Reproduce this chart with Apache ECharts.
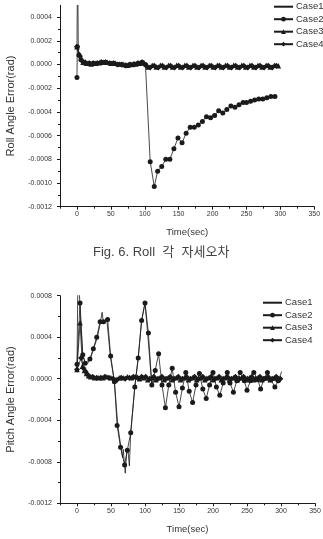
<!DOCTYPE html>
<html>
<head>
<meta charset="utf-8">
<script src="https://cdn.jsdelivr.net/npm/echarts@6/dist/echarts.min.js"></script>
<style>
  html, body { margin: 0; padding: 0; background: #fff; }
  #chart { width: 323px; height: 539px; }
</style>
</head>
<body>
<div id="chart"></div>
<script>
// tick values
const xTicks = [0, 50, 100, 150, 200, 250, 300, 350]
const xMinor = [-25, 25, 75, 125, 175, 225, 275, 325]
const rollTicks = [-0.0012, -0.001, -0.0008, -0.0006, -0.0004, -0.0002, 0, 0.0002, 0.0004]
const rollMinor = [-0.0011, -0.0009, -0.0007, -0.0005, -0.0003, -0.0001, 0.0001, 0.0003]
const pitchTicks = [-0.0012, -0.0008, -0.0004, 0, 0.0004, 0.0008]
const pitchMinor = [-0.001, -0.0006, -0.0002, 0.0002, 0.0006]

// Roll angle error  [time, rad]
const rollCase1 = [[0, 0.00015], [1, 0.0009], [2, 0.0001], [4, 0.00004], [8, 0.00001], [20, 0.000005],
  [60, 0], [100, 0], [104, -0.00002], [200, -0.00001], [298, -0.00001]]
const rollCase2 = [[0, -0.00011], [0.5, 0.00015], [3, 0.00008], [6, 0.00004], [12, 0.00001], [18, 0.00001],
  [24, 0.00001], [30, 0.00001], [36, 0.00002], [42, 0.00002], [48, 0.00001], [54, 0.00001], [60, 0],
  [66, 0], [72, -0.00001], [78, 0], [84, 0], [90, 0.00001], [96, 0.00002], [101, 0],
  [108, -0.00082], [114, -0.00103], [119, -0.0009], [125, -0.00086], [131, -0.0008], [137, -0.0008],
  [143, -0.00071], [149, -0.00062], [155, -0.00066], [161, -0.00058], [167, -0.00053], [173, -0.00053],
  [179, -0.00051], [185, -0.00048], [191, -0.00044], [197, -0.00045], [203, -0.00043], [209, -0.00039],
  [215, -0.00041], [221, -0.00038], [227, -0.00035], [233, -0.00036], [239, -0.00034], [245, -0.00032],
  [250, -0.00032], [256, -0.00031], [262, -0.0003], [268, -0.00029], [274, -0.00029], [280, -0.00028],
  [286, -0.00027], [292, -0.00027]]
const rollCase3 = [[0, 0.00015], [3, 0.00009], [6, 0.00005], [9, 0.00002], [15, 0.00001], [21, 0.000005],
  [27, 0.00001], [33, 0.000015], [39, 0.00002], [45, 0.00002], [51, 0.00001], [57, 0.00001], [63, 0.000005],
  [69, 0], [75, -0.000005], [81, 0], [87, 0.000005], [93, 0.00001], [99, 0.000015], [105, -0.00002],
  [111, -0.000005], [117, -0.00002], [123, -0.000005], [129, -0.00002], [135, -0.000005], [141, -0.00002],
  [147, -0.000005], [153, -0.00002], [159, -0.000005], [165, -0.00002], [171, -0.000005], [177, -0.00002],
  [183, -0.000005], [189, -0.00002], [195, -0.000005], [201, -0.00002], [207, -0.000005], [213, -0.00002],
  [219, -0.000005], [225, -0.00002], [231, -0.000005], [237, -0.00002], [243, -0.000005], [249, -0.00002],
  [255, -0.000005], [261, -0.00002], [267, -0.000005], [273, -0.00002], [279, -0.000005], [285, -0.00002],
  [291, -0.000005], [297, -0.00001]]
const rollCase4 = [[0, 0.00015], [4.5, 0.00007], [7.5, 0.00003], [12, 0.00002], [18, 0.00001], [24, 0.00001],
  [30, 0.00001], [36, 0.00002], [42, 0.00002], [48, 0.00001], [54, 0.00001], [60, 0], [66, 0],
  [72, -0.000005], [78, 0], [84, 0.000005], [90, 0.00001], [96, 0.00002], [102, -0.00001], [108, -0.000025],
  [114, -0.00001], [120, -0.000025], [126, -0.00001], [132, -0.000025], [138, -0.00001], [144, -0.000025],
  [150, -0.00001], [156, -0.000025], [162, -0.00001], [168, -0.000025], [174, -0.00001], [180, -0.000025],
  [186, -0.00001], [192, -0.000025], [198, -0.00001], [204, -0.000025], [210, -0.00001], [216, -0.000025],
  [222, -0.00001], [228, -0.000025], [234, -0.00001], [240, -0.000025], [246, -0.00001], [252, -0.000025],
  [258, -0.00001], [264, -0.000025], [270, -0.00001], [276, -0.000025], [282, -0.00001], [288, -0.000025],
  [294, -0.00001]]

// Pitch angle error  [time, rad]
const pitchCase1 = [[0, 0.0001], [1.5, 0.0011], [3, 0.0009], [5, 0.0006], [8, 0.00025], [12, 0.00015],
  [16, 0.00015], [20, 0.0002], [25, 0.0003], [30, 0.0004], [34, 0.00053], [37, 0.00064], [39, 0.00053],
  [44, 0.00056], [49, 0.00022], [55, -0.00003], [60, -0.00045], [65, -0.00068], [67, -0.00076],
  [68, -0.00068], [71, -0.00091], [73, -0.00072], [75, -0.00069], [77, -0.00084], [79, -0.00052],
  [85, -0.00008], [90, 0.0002], [95, 0.00056], [100, 0.00073], [104, 0.00043], [110, -0.00006],
  [115, 0.00001], [150, 0], [200, 0], [250, 0], [296, -0.00002], [301, 0.00007]]
const pitchCase2 = [[0, 0.00014], [4.5, 0.00073], [8.5, 0.00023], [12, 0.00015], [19, 0.00019],
  [24, 0.00029], [29, 0.0004], [34, 0.00055], [39, 0.00055], [45, 0.00057], [49.5, 0.00022],
  [55, -0.00003], [59, -0.00045], [64, -0.00066], [70, -0.00083], [74, -0.00069], [79, -0.00052],
  [85, -0.00008], [90, 0.0002], [95, 0.00056], [100, 0.00073], [105, 0.00044], [110, -0.00006],
  [115, 0.00008], [120, 0.00024], [125, -0.00006], [130, -0.00028], [135, -0.00006], [140, 0.0001],
  [145, -0.00013], [150, -0.00027], [155, -0.00009], [160, 0.00006], [165, -0.00012], [170, -0.00023],
  [175, -0.00006], [180, 0.00005], [185, -0.0001], [190, -0.00019], [195, -0.00006], [200, 0.00006],
  [205, -0.00008], [210, -0.00016], [215, -0.00004], [221, 0.00006], [225, -0.00004], [230, -0.00013],
  [235, -0.00002], [240, 0.00006], [246, -0.00002], [250, -0.00011], [255, -0.00002], [260, 0.00006],
  [266, -0.00001], [270, -0.0001], [275, 0], [280, 0.00006], [285, -0.00001], [291, -0.00008], [296, -0.00002]]
const pitchCase3 = [[0, 0.00009], [4.5, 0.00054], [8, 0.00012], [11, 0.00008], [14, 0.00005], [17, 0.00003],
  [20, 0.00002], [26, 0.00001], [32, 0.00001], [38, 0.00001], [44, 0.00002], [50, 0.00001], [56, -0.00001],
  [62, 0.00001], [68, 0.00001], [74, 0.00002], [80, 0.00001], [86, 0.00002], [92, 0], [98, 0.00001],
  [104, -0.00001], [110, 0.00001], [116, -0.00001], [122, 0.00001], [128, -0.00001], [134, 0.00001],
  [140, -0.00001], [146, 0.00001], [152, -0.00001], [158, 0.00001], [164, -0.00001], [170, 0.00001],
  [176, -0.00001], [182, 0.00001], [188, -0.00001], [194, 0.00001], [200, -0.00001], [206, 0.00001],
  [212, -0.00001], [218, 0.00001], [224, -0.00001], [230, 0.00001], [236, -0.00001], [242, 0.00001],
  [248, -0.00001], [254, 0.00001], [260, -0.00001], [266, 0.00001], [272, -0.00001], [278, 0.00001],
  [284, -0.00001], [290, 0.00001], [296, 0]]
const pitchCase4 = [[0, 0.00009], [6, 0.0002], [9.5, 0.0001], [12.5, 0.00007], [15.5, 0.00004], [23, 0.00002],
  [29, 0.00001], [35, 0.00001], [41, 0.00002], [47, 0.00001], [53, 0], [59, -0.00001], [65, 0.00001],
  [71, 0], [77, 0.00001], [83, 0.00002], [89, 0.00001], [95, 0.00002], [101, 0.00002], [107, 0],
  [113, 0.00002], [119, 0], [125, 0.00002], [131, 0], [137, 0.00002], [143, 0], [149, 0.00002],
  [155, 0], [161, 0.00002], [167, 0], [173, 0.00002], [179, 0], [185, 0.00002], [191, 0],
  [197, 0.00002], [203, 0], [209, 0.00002], [215, 0], [221, 0.00002], [227, 0], [233, 0.00002],
  [239, 0], [245, 0.00002], [251, 0], [257, 0.00002], [263, 0], [269, 0.00002], [275, 0],
  [281, 0.00002], [287, 0], [293, 0.00002], [299, 0]]

const FONT = 'Liberation Sans, Arial, sans-serif'
const INK = '#1a1a1a'
const TXT = '#333'

function mainX(grid, name) {
  return {
    type: 'value', gridIndex: grid, min: -25, max: 350,
    name: name, nameLocation: 'middle', nameGap: 21,
    nameTextStyle: { fontFamily: FONT, fontSize: 9.5, color: TXT },
    axisLine: { show: true, onZero: false, lineStyle: { color: INK, width: 1 } },
    axisTick: { show: true, length: 3, customValues: xTicks, lineStyle: { color: INK } },
    axisLabel: { customValues: xTicks, margin: 4, fontFamily: FONT, fontSize: 7, color: TXT },
    splitLine: { show: false }
  }
}
function minorX(grid) {
  return {
    type: 'value', gridIndex: grid, min: -25, max: 350, position: 'bottom',
    axisLine: { show: false, onZero: false },
    axisTick: { show: true, length: 2, customValues: xMinor, lineStyle: { color: INK } },
    axisLabel: { show: false }, splitLine: { show: false }
  }
}
function mainY(grid, name, min, max, ticks) {
  return {
    type: 'value', gridIndex: grid, min: min, max: max,
    name: name, nameLocation: 'middle', nameGap: 44,
    nameTextStyle: { fontFamily: FONT, fontSize: 11, color: TXT },
    axisLine: { show: true, onZero: false, lineStyle: { color: INK, width: 1 } },
    axisTick: { show: true, length: 3, customValues: ticks, lineStyle: { color: INK } },
    axisLabel: {
      customValues: ticks, margin: 8, fontFamily: FONT, fontSize: 7, color: TXT,
      formatter: v => v.toFixed(4)
    },
    splitLine: { show: false }
  }
}
function minorY(grid, min, max, ticks) {
  return {
    type: 'value', gridIndex: grid, min: min, max: max, position: 'left',
    axisLine: { show: false, onZero: false },
    axisTick: { show: true, length: 2, customValues: ticks, lineStyle: { color: INK } },
    axisLabel: { show: false }, splitLine: { show: false }
  }
}

const symbols = ['none', 'circle', 'triangle', 'diamond']
const sizes = [0, 5, 5.5, 6]
function mkSeries(name, idx, data, xi, yi) {
  return {
    type: 'line', name: name, data: data, xAxisIndex: xi, yAxisIndex: yi,
    symbol: symbols[idx], symbolSize: sizes[idx], showSymbol: idx > 0,
    lineStyle: { color: INK, width: 0.8 },
    itemStyle: { color: INK },
    clip: true, z: 2 + idx
  }
}

function legendAt(left, top) {
  return {
    orient: 'vertical', left: left, top: top, padding: 0,
    itemWidth: 19, itemHeight: 6, itemGap: 2.5,
    textStyle: { fontFamily: FONT, fontSize: 9.5, lineHeight: 10, color: TXT, padding: [0, 0, 0, -2] },
    data: [{ name: 'Case1', itemStyle: { opacity: 0 } }, 'Case2', 'Case3', 'Case4']
  }
}

const chart = echarts.init(document.getElementById('chart'), null, { renderer: 'canvas' })
chart.setOption({
  animation: false,
  backgroundColor: '#fff',
  grid: [
    { left: 60, top: 5.3, width: 254.3, height: 201.4, containLabel: false, outerBoundsMode: 'none' },
    { left: 60, top: 295.7, width: 255, height: 207.6, containLabel: false, outerBoundsMode: 'none' }
  ],
  legend: [legendAt(273, 1.7), legendAt(262, 297.7)],
  xAxis: [mainX(0, 'Time(sec)'), minorX(0), mainX(1, 'Time(sec)'), minorX(1)],
  yAxis: [
    mainY(0, 'Roll Angle Error(rad)', -0.0012, 0.0005, rollTicks),
    minorY(0, -0.0012, 0.0005, rollMinor),
    mainY(1, 'Pitch Angle Error(rad)', -0.0012, 0.0008, pitchTicks),
    minorY(1, -0.0012, 0.0008, pitchMinor)
  ],
  graphic: [{
    type: 'text', left: 93, top: 246,
    style: { text: 'Fig. 6. Roll  각  자세오차', fontFamily: 'Liberation Sans, Noto Sans CJK KR', fontSize: 13, fill: '#444' }
  }],
  series: [
    mkSeries('Case1', 0, rollCase1, 0, 0),
    mkSeries('Case2', 1, rollCase2, 0, 0),
    mkSeries('Case3', 2, rollCase3, 0, 0),
    mkSeries('Case4', 3, rollCase4, 0, 0),
    mkSeries('Case1', 0, pitchCase1, 2, 2),
    mkSeries('Case2', 1, pitchCase2, 2, 2),
    mkSeries('Case3', 2, pitchCase3, 2, 2),
    mkSeries('Case4', 3, pitchCase4, 2, 2)
  ]
})
</script>
</body>
</html>
